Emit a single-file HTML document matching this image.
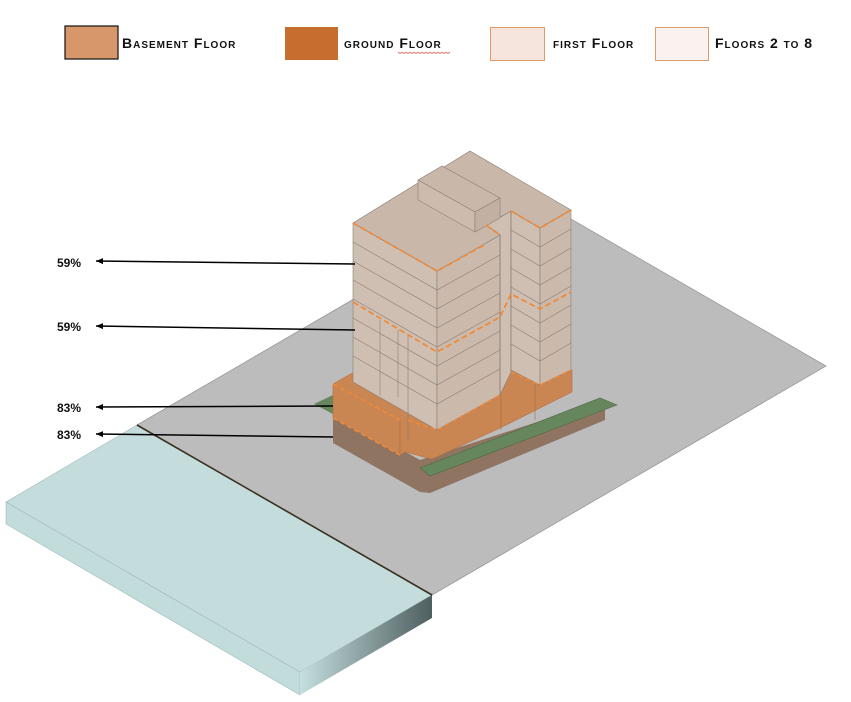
<!DOCTYPE html>
<html><head><meta charset="utf-8"><style>
body{margin:0;background:#fff;}
svg{display:block}
.lg{font-family:"Liberation Sans",sans-serif;font-weight:bold;font-variant:small-caps;font-size:14px;letter-spacing:1px;fill:#111}
.pc{font-family:"Liberation Sans",sans-serif;font-weight:bold;font-size:12px;fill:#111}
</style></head><body>
<svg width="851" height="702" viewBox="0 0 851 702" xmlns="http://www.w3.org/2000/svg">
<defs>
<linearGradient id="rg" x1="0" y1="0" x2="1" y2="0">
<stop offset="0" stop-color="#c5dede"/><stop offset="1" stop-color="#4e5f60"/></linearGradient>
<marker id="ah" markerUnits="userSpaceOnUse" markerWidth="8" markerHeight="8" refX="7" refY="4" orient="auto"><path d="M0,1 L7,4 L0,7z" fill="#000"/></marker>
</defs>
<rect x="65" y="26" width="53" height="33" fill="#d8966b" stroke="#111" stroke-width="1.2"/>
<text class="lg" x="122" y="48">Basement Floor</text>
<rect x="285" y="27" width="53" height="33" fill="#c66e30"/>
<text class="lg" x="344" y="48">ground Floor</text>
<path d="M398,52 l2,1.5 2,-1.5 2,1.5 2,-1.5 2,1.5 2,-1.5 2,1.5 2,-1.5 2,1.5 2,-1.5 2,1.5 2,-1.5 2,1.5 2,-1.5 2,1.5 2,-1.5 2,1.5 2,-1.5 2,1.5 2,-1.5 2,1.5 2,-1.5 2,1.5 2,-1.5 2,1.5 2,-1.5" fill="none" stroke="#d44" stroke-width="0.7"/>
<rect x="490.5" y="27.5" width="54" height="33" fill="#f6e5dc" stroke="#e39a6a"/>
<text class="lg" x="553" y="48">first Floor</text>
<rect x="655.5" y="27.5" width="53" height="33" fill="#faf2ee" stroke="#e39a6a"/>
<text class="lg" x="715" y="48">Floors 2 to 8</text>

<polygon points="137,425 531,196 826,366 432,595" fill="#bcbcbc" stroke="#999" stroke-width="0.8"/>
<polygon points="6,502 137,425 432,595 300,672" fill="#c4dddc" stroke="#9fb9b9" stroke-width="0.6"/>
<polygon points="6,502 300,672 300,695 6,524" fill="#c2dcdc" stroke="#9fb9b9" stroke-width="0.6"/>
<polygon points="300,672 432,595 432,618 300,695" fill="url(#rg)"/>
<line x1="137" y1="425" x2="432" y2="595" stroke="#3a3020" stroke-width="1.6"/>

<polygon points="333,412 420,460 605,400 605,420 430,493 420,492 333,443" fill="#8f7462"/>
<polygon points="314,404 333,395 333,414" fill="#66865e"/>
<polygon points="420,468 600,398 617,405 430,476" fill="#66865e" stroke="#4e6a48" stroke-width="0.6"/>
<polygon points="333,384 356,371 545,371 572,370 572,392 500,428 432,459 405,452 400,455 333,418" fill="#c98552" stroke="#b87040" stroke-width="0.6"/>
<line x1="400" y1="420" x2="400" y2="455" stroke="#a56a40" stroke-width="0.6"/>
<line x1="501" y1="395" x2="501" y2="430" stroke="#a56a40" stroke-width="0.6"/>
<line x1="535" y1="380" x2="535" y2="420" stroke="#a56a40" stroke-width="0.6"/>
<path d="M333,384 L400,420 M333,418 L400,455" stroke="#f08a3a" stroke-width="1.5" stroke-dasharray="5,3" fill="none"/>

<polygon points="486,225 511,211 511,372 500,395 500,235" fill="#cfbfb2" stroke="#8c7e74" stroke-width="0.6"/>
<polygon points="353,223 437,271 437,430 353,382" fill="#cfbfb2" stroke="#8c7e74" stroke-width="0.6"/>
<polygon points="437,271 500,235 500,395 437,430" fill="#cbbaac" stroke="#8c7e74" stroke-width="0.6"/>
<polygon points="511,211 540,228 540,385 511,370" fill="#cfbfb2" stroke="#8c7e74" stroke-width="0.6"/>
<polygon points="540,228 571,210 571,370 540,385" fill="#cbbaac" stroke="#8c7e74" stroke-width="0.6"/>
<polygon points="353,223 470,151 571,210 540,228 511,211 486,225 500,235 437,271" fill="#c9b8aa" stroke="#8c7e74" stroke-width="0.6"/>
<polygon points="418,180 442,166 500,198 475,212" fill="#c9b8aa" stroke="#8c7e74" stroke-width="0.6"/>
<polygon points="418,180 475,212 475,232 418,200" fill="#cdbcae" stroke="#8c7e74" stroke-width="0.6"/>
<polygon points="475,212 500,198 500,218 475,232" fill="#c2b1a3" stroke="#8c7e74" stroke-width="0.6"/>
<g stroke="#8c7e74" stroke-width="0.6" fill="none">
<path d="M353,242 L437,290 L500,255 M353,261 L437,309 L500,274 M353,280 L437,328 L500,293 M353,299 L437,347 L500,312 M353,318 L437,366 L500,331 M353,337 L437,385 L500,350 M353,356 L437,404 L500,369"/>
<path d="M511,230 L540,247 L571,229 M511,249 L540,266 L571,248 M511,268 L540,285 L571,267 M511,287 L540,304 L571,286 M511,306 L540,323 L571,305 M511,325 L540,342 L571,324 M511,344 L540,361 L571,343"/>
<path d="M380,320 L380,395 M398,330 L398,397 M408,336 L408,440 M500,235 L500,395 M511,211 L511,372"/>
</g>
<path d="M353,223 L437,271 L486,244 M486,225 L500,235 M511,211 L540,228 L571,210" stroke="#f08a3a" stroke-width="1.8" stroke-dasharray="6,3" fill="none"/>
<path d="M353,302 L437,352 L500,317 L511,294 L540,309 L571,292" stroke="#f08a3a" stroke-width="1.8" stroke-dasharray="6,3" fill="none"/>
<path d="M408,420 L437,430 L500,395 M511,372 L540,385 L571,370" stroke="#f08a3a" stroke-width="1.5" stroke-dasharray="5,3" fill="none"/>

<g stroke="#000" stroke-width="1.5">
<line x1="355" y1="264" x2="96" y2="261" marker-end="url(#ah)"/>
<line x1="355" y1="330" x2="96" y2="326" marker-end="url(#ah)"/>
<line x1="333" y1="406" x2="96" y2="407" marker-end="url(#ah)"/>
<line x1="333" y1="437" x2="96" y2="434" marker-end="url(#ah)"/>
</g>
<text class="pc" x="57" y="267">59%</text>
<text class="pc" x="57" y="331">59%</text>
<text class="pc" x="57" y="412">83%</text>
<text class="pc" x="57" y="439">83%</text>
</svg>
</body></html>
